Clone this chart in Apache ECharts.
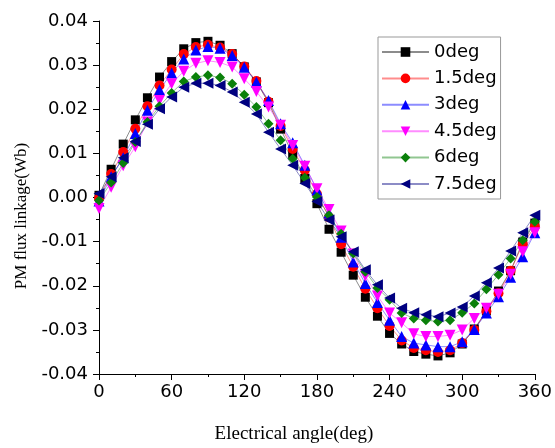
<!DOCTYPE html>
<html>
<head>
<meta charset="utf-8">
<script src="https://cdn.jsdelivr.net/npm/echarts@6/dist/echarts.min.js"></script>
<style>html,body{margin:0;padding:0;background:#fff;}#c{width:555px;height:448px;}</style>
</head>
<body>
<div id="c"></div>
<script>
const angles = [0,10,20,30,40,50,60,70,80,90,100,110,120,130,140,150,160,170,180,190,200,210,220,230,240,250,260,270,280,290,300,310,320,330,340,350,360];
const s0deg = [0.0005,0.0064,0.0121,0.0176,0.0226,0.0273,0.0308,0.0337,0.0351,0.0354,0.0345,0.0326,0.0296,0.0262,0.0215,0.0155,0.0099,0.0043,-0.0014,-0.0072,-0.0124,-0.0176,-0.0226,-0.0269,-0.0308,-0.0332,-0.0349,-0.0355,-0.0359,-0.0352,-0.0332,-0.0298,-0.0257,-0.0212,-0.0166,-0.0101,-0.0058];
const s15deg = [-0.0002,0.0053,0.0103,0.0156,0.0207,0.0254,0.0290,0.0325,0.0341,0.0346,0.0340,0.0325,0.0297,0.0264,0.0217,0.0162,0.0110,0.0062,0.0008,-0.0045,-0.0106,-0.0157,-0.0207,-0.0251,-0.0291,-0.0324,-0.0341,-0.0346,-0.0350,-0.0346,-0.0330,-0.0300,-0.0258,-0.0217,-0.0166,-0.0106,-0.0066];
const s3deg = [-0.0008,0.0047,0.0090,0.0145,0.0198,0.0244,0.0282,0.0314,0.0334,0.0342,0.0338,0.0322,0.0295,0.0262,0.0220,0.0167,0.0124,0.0073,0.0017,-0.0035,-0.0090,-0.0146,-0.0195,-0.0238,-0.0278,-0.0315,-0.0330,-0.0334,-0.0338,-0.0338,-0.0327,-0.0299,-0.0262,-0.0225,-0.0181,-0.0134,-0.0080];
const s45deg = [-0.0025,0.0023,0.0072,0.0115,0.0171,0.0220,0.0258,0.0286,0.0304,0.0310,0.0306,0.0296,0.0269,0.0240,0.0205,0.0164,0.0118,0.0071,0.0020,-0.0027,-0.0076,-0.0128,-0.0178,-0.0223,-0.0262,-0.0284,-0.0309,-0.0315,-0.0315,-0.0312,-0.0300,-0.0274,-0.0251,-0.0219,-0.0174,-0.0123,-0.0080];
const s6deg = [-0.0007,0.0034,0.0078,0.0126,0.0171,0.0207,0.0237,0.0263,0.0273,0.0277,0.0272,0.0258,0.0233,0.0205,0.0167,0.0130,0.0088,0.0045,0.0001,-0.0040,-0.0082,-0.0127,-0.0168,-0.0205,-0.0232,-0.0262,-0.0274,-0.0278,-0.0281,-0.0278,-0.0261,-0.0240,-0.0208,-0.0175,-0.0138,-0.0097,-0.0055];
const s75deg = [0.0009,0.0047,0.0090,0.0127,0.0166,0.0201,0.0228,0.0250,0.0259,0.0259,0.0254,0.0239,0.0216,0.0189,0.0148,0.0110,0.0073,0.0032,-0.0009,-0.0051,-0.0089,-0.0123,-0.0164,-0.0198,-0.0228,-0.0251,-0.0261,-0.0266,-0.0270,-0.0262,-0.0248,-0.0223,-0.0193,-0.0160,-0.0121,-0.0080,-0.0040];
const seriesNames = ['0deg','1.5deg','3deg','4.5deg','6deg','7.5deg'];
const seriesValues = [s0deg, s15deg, s3deg, s45deg, s6deg, s75deg];
const xTicks = [0,60,120,180,240,300,360];
const yTicks = [-0.04,-0.03,-0.02,-0.01,0.00,0.01,0.02,0.03,0.04];

const colors = ['#000000','#ff0000','#0000ff','#ff00ff','#0a800a','#000080'];
const symbols = ['rect','circle','triangle','triangle','diamond','triangle'];
const rotates = [0,0,0,180,0,90];
const sizes = [9,10,11,11,10,11];

const chart = echarts.init(document.getElementById('c'), null, {renderer:'canvas'});
const lbl = {color:'#000', fontFamily:'DejaVu Sans', fontSize:18};
chart.setOption({
  animation:false,
  backgroundColor:'#fff',
  grid:{left:99, right:19, top:21, bottom:74, containLabel:false},
  xAxis:{
    type:'value', min:xTicks[0], max:xTicks[xTicks.length-1], interval:60,
    axisLine:{show:true, onZero:false, lineStyle:{color:'#000', width:1}},
    axisTick:{show:true, inside:false, length:6, lineStyle:{color:'#000'}},
    minorTick:{show:true, splitNumber:2, length:3, lineStyle:{color:'#000'}},
    splitLine:{show:false},
    axisLabel:Object.assign({margin:9}, lbl)
  },
  yAxis:{
    type:'value', min:yTicks[0], max:yTicks[yTicks.length-1], interval:0.01,
    axisLine:{show:true, onZero:false, lineStyle:{color:'#000', width:1}},
    axisTick:{show:true, inside:false, length:6, lineStyle:{color:'#000'}},
    minorTick:{show:true, splitNumber:2, length:3, lineStyle:{color:'#000'}},
    splitLine:{show:false},
    axisLabel:Object.assign({margin:11, formatter:v=>v.toFixed(2)}, lbl)
  },
  legend:{
    data:seriesNames, orient:'vertical', left:378, top:37,
    backgroundColor:'#fff', borderColor:'#999', borderWidth:1,
    padding:[5,4,5,3], itemWidth:47, itemHeight:12, itemGap:6.4,
    textStyle:{color:'#000', fontFamily:'DejaVu Sans', fontSize:18, lineHeight:20, padding:[0,0,0,0]}
  },
  graphic:[
    {type:'text', x:294, y:434, style:{text:'Electrical angle(deg)', font:'19px "Liberation Serif"', fill:'#000', textAlign:'center', textVerticalAlign:'middle'}},
    {type:'text', x:22, y:216, rotation:Math.PI/2, style:{text:'PM flux linkage(Wb)', font:'17px "Liberation Serif"', fill:'#000', textAlign:'center', textVerticalAlign:'middle'}}
  ],
  series: seriesNames.map((n,i)=>({
    name:n, type:'line',
    data: angles.map((a,k)=>[a, seriesValues[i][k]]),
    symbol:symbols[i], symbolRotate:rotates[i], symbolSize:sizes[i],
    showAllSymbol:true,
    itemStyle:{color:colors[i]},
    lineStyle:{color:colors[i], width:1, opacity:0.45}
  }))
});
</script>
</body>
</html>
